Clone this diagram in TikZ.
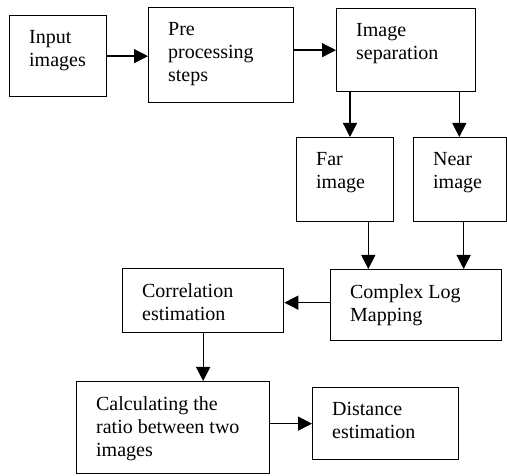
\documentclass[tikz,border=0pt]{standalone}
\usepackage{fontspec}
\setmainfont{Liberation Serif}
\usetikzlibrary{arrows.meta}
\tikzset{>={Triangle[width=14pt,length=14pt]}}
\tikzset{stage/.style={draw,rectangle,line width=1.3pt,anchor=north west,
    inner xsep=19.5pt,inner ysep=15pt,font=\fontsize{20}{23}\selectfont},
  flow/.style={->,line width=1.3pt}}
\newcommand\stagetext[3]{\parbox[t][#2][t]{#1}{#3}}

\begin{document}
\begin{tikzpicture}[x=1pt,y=-1pt]
  \useasboundingbox (0,0) rectangle (507,476);

  \node[stage] (inp)  at (9,15)    {\stagetext{58pt}{51pt}{Input\\images}};
  \node[stage] (pre)  at (148,7)   {\stagetext{106pt}{65pt}{Pre\\processing\\steps}};
  \node[stage] (sep)  at (336,8)   {\stagetext{100pt}{53pt}{Image\\separation}};
  \node[stage] (far)  at (296,137) {\stagetext{58pt}{54pt}{Far\\image}};
  \node[stage] (near) at (413,137) {\stagetext{54pt}{54pt}{Near\\image}};
  \node[stage] (clm)  at (330,269) {\stagetext{132pt}{41pt}{Complex Log\\Mapping}};
  \node[stage] (cor)  at (122,268) {\stagetext{122pt}{34pt}{Correlation\\estimation}};
  \node[stage] (calc) at (76,381)  {\stagetext{154pt}{62pt}{Calculating the\\ratio between two\\images}};
  \node[stage] (dist) at (312,387) {\stagetext{107pt}{42pt}{Distance\\estimation}};

  \coordinate (s1) at ([xshift=14pt]sep.south west);
  \coordinate (s2) at ([xshift=-17pt]sep.south east);
  \coordinate (f1) at ([xshift=-26pt]far.south east);
  \coordinate (n1) at ([xshift=3.5pt]near.south);
  \coordinate (c1) at ([yshift=2.5pt]clm.west);

  \draw[flow] (inp.east) -- (inp.east -| pre.west);
  \draw[flow] (sep.west -| pre.east) -- (sep.west);
  \draw[flow] (s1) -- (s1 |- far.north);
  \draw[flow] (s2) -- (s2 |- near.north);
  \draw[flow] (f1) -- (f1 |- clm.north);
  \draw[flow] (n1) -- (n1 |- clm.north);
  \draw[flow] (c1) -- (c1 -| cor.east);
  \draw[flow] (cor.south) -- (cor.south |- calc.north);
  \draw[flow] (dist.west -| calc.east) -- (dist.west);
\end{tikzpicture}
\end{document}
